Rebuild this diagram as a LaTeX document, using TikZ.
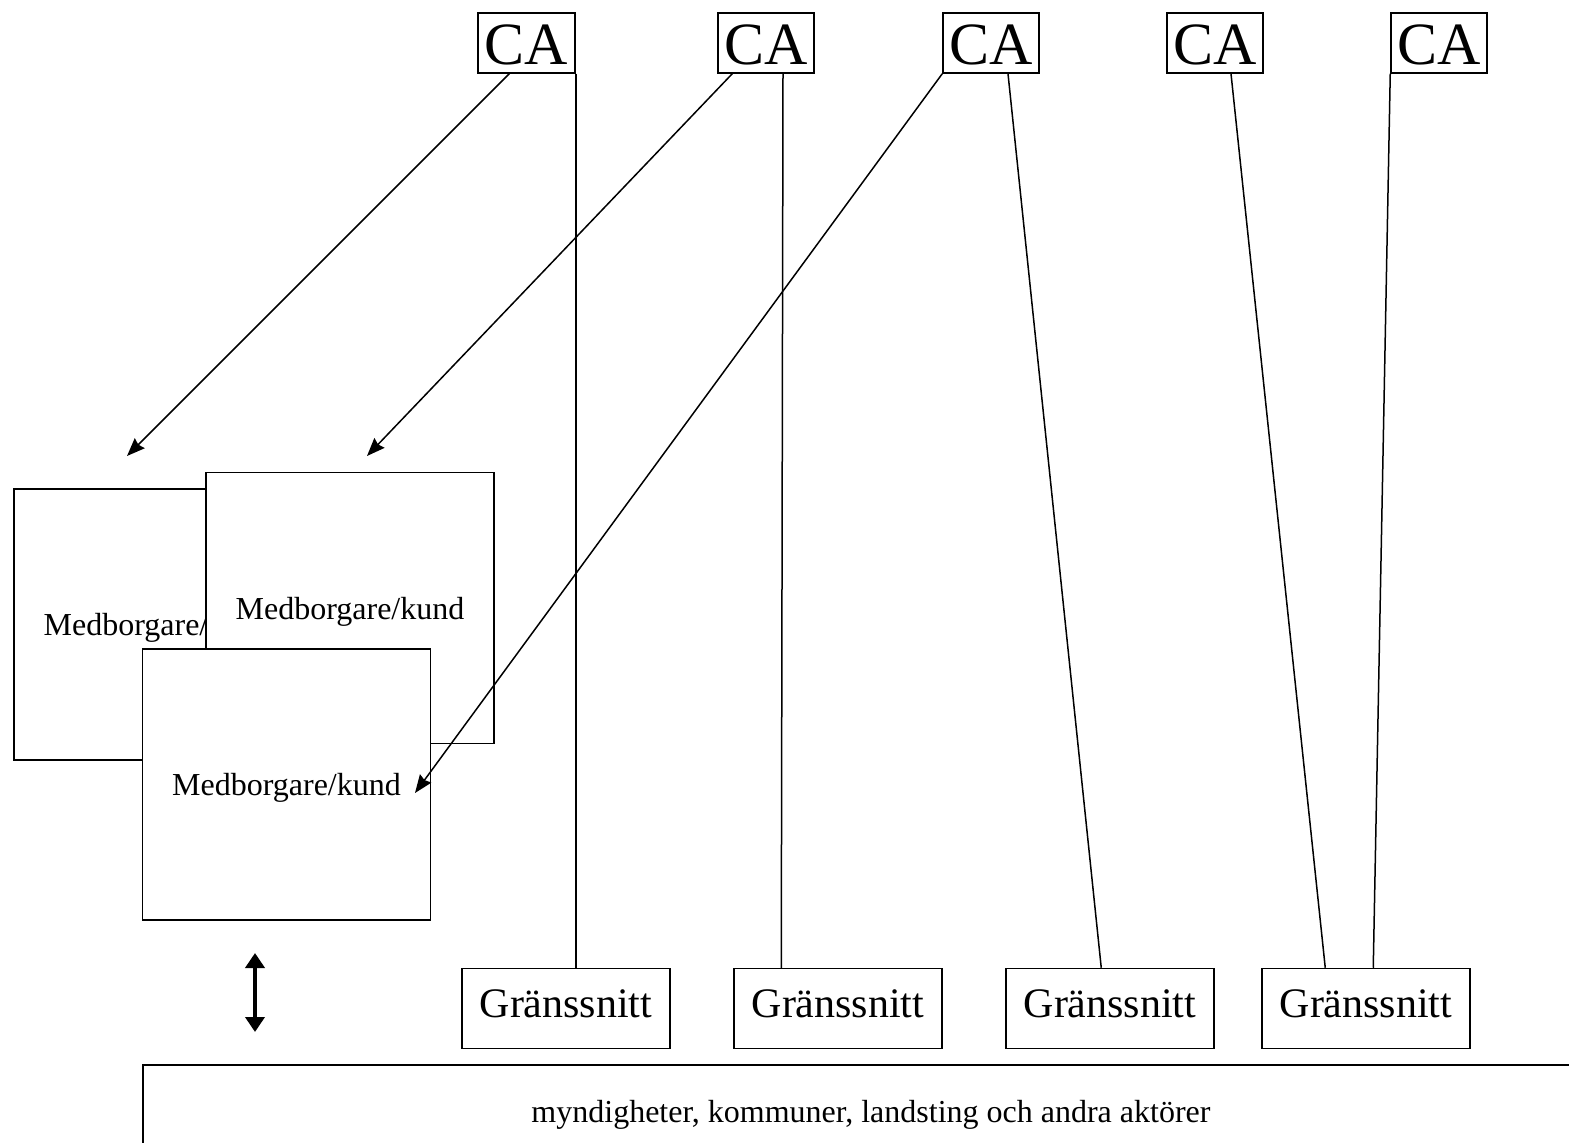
\documentclass[tikz,border=0pt]{standalone}
\usepackage{fontspec}
\setmainfont{Liberation Serif}
\usetikzlibrary{arrows.meta,calc}

\tikzset{
    linje/.style={line width=0.75pt},
    ca/.style={draw, linje, inner sep=0pt, minimum width=48pt, minimum height=30pt,
        text height=22pt, text depth=0pt, font=\fontsize{30}{30}\selectfont},
    grans/.style={draw, linje, inner sep=0pt, minimum width=104pt, minimum height=40pt,
        text height=10pt, text depth=1pt, font=\fontsize{21}{21}\selectfont},
    kund/.style={draw, linje, fill=white, inner sep=0pt, minimum width=144pt,
        minimum height=135.5pt, text height=13.5pt, text depth=2pt,
        font=\fontsize{16}{16}\selectfont},
    pil/.style={linje, -{Stealth[length=9pt,width=7pt,inset=1pt]}},
}

\begin{document}
\begin{tikzpicture}[x=0.5pt,y=-0.5pt]
            \useasboundingbox (0,0) rectangle (1569,1143);

                % CA -- góra
            \node[ca, minimum width=48.5pt] (ca1) at (526.5,43) {CA};
            \node[ca] (ca2) at (766, 43) {CA};
            \node[ca] (ca3) at (991, 43) {CA};
            \node[ca] (ca4) at (1215,43) {CA};
            \node[ca] (ca5) at (1439,43) {CA};

                % gränssnitt -- dół
            \node[grans] (g1) at (566, 1008.5) {Gränssnitt};
            \node[grans] (g2) at (838, 1008.5) {Gränssnitt};
            \node[grans] (g3) at (1110,1008.5) {Gränssnitt};
            \node[grans] (g4) at (1366,1008.5) {Gränssnitt};

                % medborgare/kund
            \node[kund] (k1) at (158,  624.5) {Medborgare/kund};
            \node[kund] (k2) at (350,  608)   {Medborgare/kund};
            \node[kund] (k3) at (286.5,784.5) {Medborgare/kund};

            \node[draw, linje, inner sep=0pt, minimum width=728pt, minimum height=47pt,
                text height=13pt, text depth=3pt,
                font=\fontsize{16}{16}\selectfont] (akt) at (871,1112)
                {myndigheter, kommuner, landsting och andra aktörer};

            \coordinate (p1) at (127,456);
            \coordinate (p2) at (367,456);
            \coordinate (p3) at (415,793);
            \coordinate (upp) at (255,953);
            \coordinate (ned) at (255,1032);

                % pilar
            \draw[pil] ($(ca1.south west)+(32,0)$) -- (p1);
            \draw[pil] ($(ca2.south west)+(15,0)$) -- (p2);
            \draw[pil] (ca3.south west) -- (p3);

                % linjer
            \draw[linje] (ca1.south east) -- (g1.north -| ca1.south east);
            \draw[linje] ($(ca2.south)+(17,0)$) -- ($(g2.north west)+(48,0)$);
            \draw[linje] ($(ca3.south)+(17,0)$) -- ($(g3.north west)+(96,0)$);
            \draw[linje] ($(ca4.south)+(16,0)$) -- ($(g4.north west)+(64,0)$);
            \draw[linje] (ca5.south west) -- ($(g4.north west)+(112,0)$);

            \draw[line width=2pt, {Triangle[length=7.5pt,width=9.5pt]}-{Triangle[length=7.5pt,width=9.5pt]}]
                (upp) -- (ned);
        \end{tikzpicture}
\end{document}
